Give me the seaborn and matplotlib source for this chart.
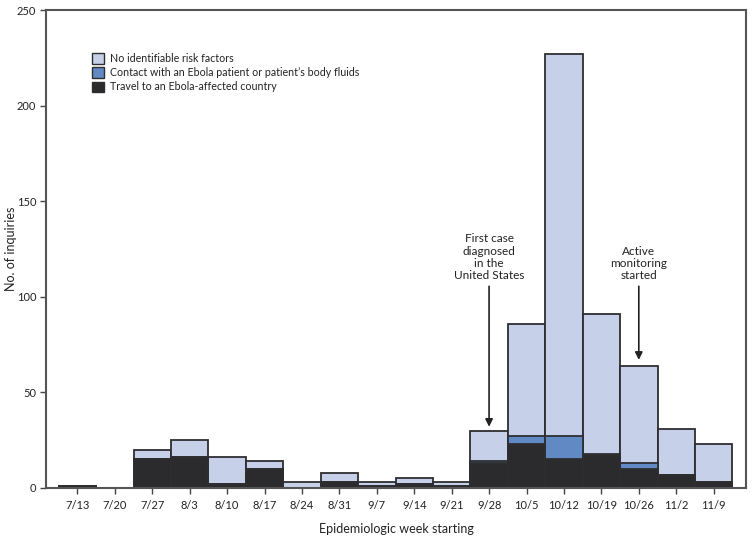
import matplotlib
matplotlib.use("Agg")
import matplotlib.pyplot as plt
import seaborn as sns
import pandas as pd
from matplotlib.patches import Patch

weeks = ["7/13", "7/20", "7/27", "8/3", "8/10", "8/17", "8/24", "8/31", "9/7",
         "9/14", "9/21", "9/28", "10/5", "10/12", "10/19", "10/26", "11/2", "11/9"]
travel = [1, 0, 15, 16, 2, 10, 0, 3, 1, 2, 1, 13, 23, 15, 17, 10, 7, 3]
contact = [0, 0, 0, 0, 0, 0, 0, 0, 0, 0, 0, 1, 4, 12, 1, 3, 0, 0]
no_risk = [0, 0, 5, 9, 14, 4, 3, 5, 2, 3, 2, 16, 59, 200, 73, 51, 24, 20]

labels = ["No identifiable risk factors",
          "Contact with an Ebola patient or patient\u2019s body fluids",
          "Travel to an Ebola-affected country"]
colors = ["#c6d1e9", "#6189c4", "#2b2a2c"]

df = pd.DataFrame({"week": weeks, "travel": travel, "contact": contact, "none": no_risk})
df["lvl_travel"] = df["travel"]
df["lvl_contact"] = df["travel"] + df["contact"]
df["lvl_total"] = df["travel"] + df["contact"] + df["none"]

sns.set_style("white")
plt.rcParams["font.family"] = ["Lato", "DejaVu Sans"]

fig = plt.figure(figsize=(7.53, 5.36), dpi=100)
ax = fig.add_axes([0.061, 0.0896, 0.930, 0.8917])

edge = "#2e2e30"
for col, c in zip(["lvl_total", "lvl_contact", "lvl_travel"], colors):
    sns.barplot(data=df, x="week", y=col, order=weeks, color=c, saturation=1,
                width=1.0, edgecolor=edge, linewidth=1.3, ax=ax, errorbar=None)

ax.set_xlim(-0.84, 17.87)
ax.set_ylim(0, 250)
ax.set_yticks([0, 50, 100, 150, 200, 250])
ax.set_xlabel("Epidemiologic week starting", fontsize=9, color="#222")
ax.set_ylabel("No. of inquiries", fontsize=9, color="#222")
ax.xaxis.set_label_coords(0.5, -0.073)
ax.yaxis.set_label_coords(-0.042, 0.5)
ax.tick_params(axis="both", direction="out", length=4, width=1, color="#444",
               labelsize=8, labelcolor="#222", bottom=True, left=True, pad=3)
ax.tick_params(axis="x", pad=5)
for s in ax.spines.values():
    s.set_visible(True)
    s.set_color("#555555")
    s.set_linewidth(1.5)

arrow_kw = dict(arrowstyle="-|>", color="#222222", lw=1.2, mutation_scale=11,
                shrinkA=0, shrinkB=0)
ax.annotate("", xy=(11, 32), xytext=(11, 105.5), arrowprops=arrow_kw)
ax.text(11, 108, "First case\ndiagnosed\nin the\nUnited States", ha="center",
        va="bottom", fontsize=8.5, color="#222", linespacing=1.15)
ax.annotate("", xy=(15, 67), xytext=(15, 105.5), arrowprops=arrow_kw)
ax.text(15, 108, "Active\nmonitoring\nstarted", ha="center", va="bottom",
        fontsize=8.5, color="#222", linespacing=1.15)

handles = [Patch(facecolor=c, edgecolor=edge, linewidth=1.0) for c in colors]
leg = ax.legend(handles, labels, loc="upper left", bbox_to_anchor=(0.066, 0.91),
                frameon=False, fontsize=7.7, handlelength=1.1, handleheight=1.1,
                handletextpad=0.6, labelspacing=0.3, borderaxespad=0,
                borderpad=0)
for t in leg.get_texts():
    t.set_color("#222")

fig.savefig("out.png", dpi=100)
